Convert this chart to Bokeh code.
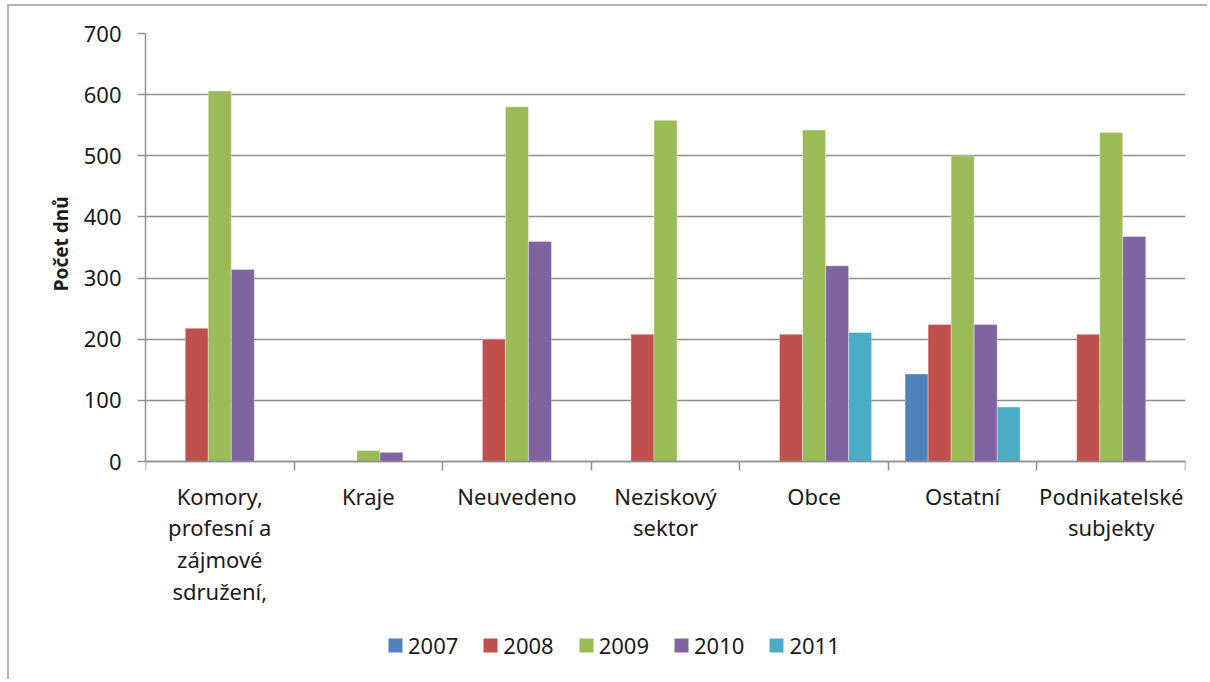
from bokeh.plotting import figure
from bokeh.models import (Range1d, FixedTicker, Legend, LegendItem, Title)
from bokeh.embed import file_html
from bokeh.resources import INLINE

# ---- data ----
categories = ["Komory,\nprofesní a\nzájmové\nsdružení,", "Kraje", "Neuvedeno",
              "Neziskový\nsektor", "Obce", "Ostatní", "Podnikatelské\nsubjekty"]
years = ["2007", "2008", "2009", "2010", "2011"]
v2007 = [None, None, None, None, None, 143, None]
v2008 = [218, None, 200, 208, 208, 224, 208]
v2009 = [606, 18, 580, 558, 542, 500, 538]
v2010 = [314, 15, 360, None, 320, 224, 368]
v2011 = [None, None, None, None, 211, 89, None]
series = [v2007, v2008, v2009, v2010, v2011]
colors = ["#4F81BD", "#C0504D", "#9BBB59", "#8064A2", "#4BACC6"]
y_ticks = [0, 100, 200, 300, 400, 500, 600, 700]
y_title = "Počet dnů"

FONT = "Noto Sans"
TXT = "#1a1a1a"
GRID = "#8f8f8f"

# layout (pixels)
W, H = 1200, 675
LEFT, RIGHT, TOP = 136, 24, 27
PLOT_PX = 428           # height of the 0..700 value area
BELOW_PX = H - TOP - PLOT_PX   # space under the zero line for labels/legend
ymax = y_ticks[-1]
ymin = -ymax * BELOW_PX / PLOT_PX

n = len(categories)
p = figure(width=W, height=H, x_range=Range1d(0, n),
           y_range=Range1d(ymin, ymax), output_backend="svg",
           toolbar_location=None, min_border_left=LEFT, min_border_right=RIGHT,
           min_border_top=TOP, min_border_bottom=0)
p.styles = {"border-left": "2px solid #b4b4b4", "border-top": "2px solid #b4b4b4",
            "margin-left": "7px", "margin-top": "4px"}
p.outline_line_color = None
p.background_fill_color = "white"

bw = 0.155
renderers = []
for j, (yr, vals, col) in enumerate(zip(years, series, colors)):
    xs = [i + 0.5 + (j - 2) * bw for i, v in enumerate(vals) if v is not None]
    ys = [v for v in vals if v is not None]
    r = p.vbar(x=xs, top=ys, width=bw, bottom=0, fill_color=col,
               line_color="white", line_alpha=0.35, line_width=1)
    renderers.append((yr, r))

# y axis
p.yaxis.ticker = FixedTicker(ticks=y_ticks)
p.yaxis.bounds = (y_ticks[0], y_ticks[-1])
p.yaxis.major_label_text_font = FONT
p.yaxis.major_label_text_font_size = "22px"
p.yaxis.major_label_text_color = TXT
p.yaxis.major_label_standoff = 16
p.yaxis.major_tick_out = 8
p.yaxis.major_tick_in = 0
p.yaxis.minor_tick_line_color = None
p.yaxis.axis_line_color = GRID
p.yaxis.major_tick_line_color = GRID
p.yaxis.axis_line_width = 1.5
p.yaxis.major_tick_line_width = 1.5

# y axis title, centred on the 0..700 part of the axis
p.add_layout(Title(text=y_title, align="right", offset=163, standoff=14,
                   text_font=FONT, text_font_style="bold", text_font_size="19px",
                   text_color=TXT), "left")

# x axis at value 0: labels at category centres, tick marks at boundaries
centres = [i + 0.5 for i in range(n)]
p.xaxis.fixed_location = 0
p.xaxis.ticker = FixedTicker(ticks=centres, minor_ticks=list(range(n + 1)))
p.xaxis.major_label_overrides = {c: lab for c, lab in zip(centres, categories)}
p.xaxis.major_label_text_font = FONT
p.xaxis.major_label_text_font_size = "22px"
p.xaxis.major_label_text_color = TXT
p.xaxis.major_label_text_line_height = 1.057
p.xaxis.major_label_standoff = 10
p.xaxis.major_tick_line_color = None
p.xaxis.major_tick_out = 0
p.xaxis.major_tick_in = 0
p.xaxis.minor_tick_out = 9
p.xaxis.minor_tick_in = 0
p.xaxis.minor_tick_line_color = GRID
p.xaxis.minor_tick_line_width = 1.5
p.xaxis.axis_line_color = GRID
p.xaxis.axis_line_width = 1.5

p.xgrid.grid_line_color = None
p.ygrid.grid_line_color = GRID
p.ygrid.grid_line_width = 1.5

legend = Legend(items=[LegendItem(label=yr, renderers=[r]) for yr, r in renderers],
                orientation="horizontal", location=(241, 21),
                border_line_color=None, background_fill_alpha=0,
                glyph_width=18, glyph_height=18, label_standoff=4,
                spacing=23, padding=0, margin=0,
                label_text_font=FONT, label_text_font_size="22px",
                label_text_color=TXT)
p.add_layout(legend)

open("out.html", "w").write(file_html(p, INLINE))
